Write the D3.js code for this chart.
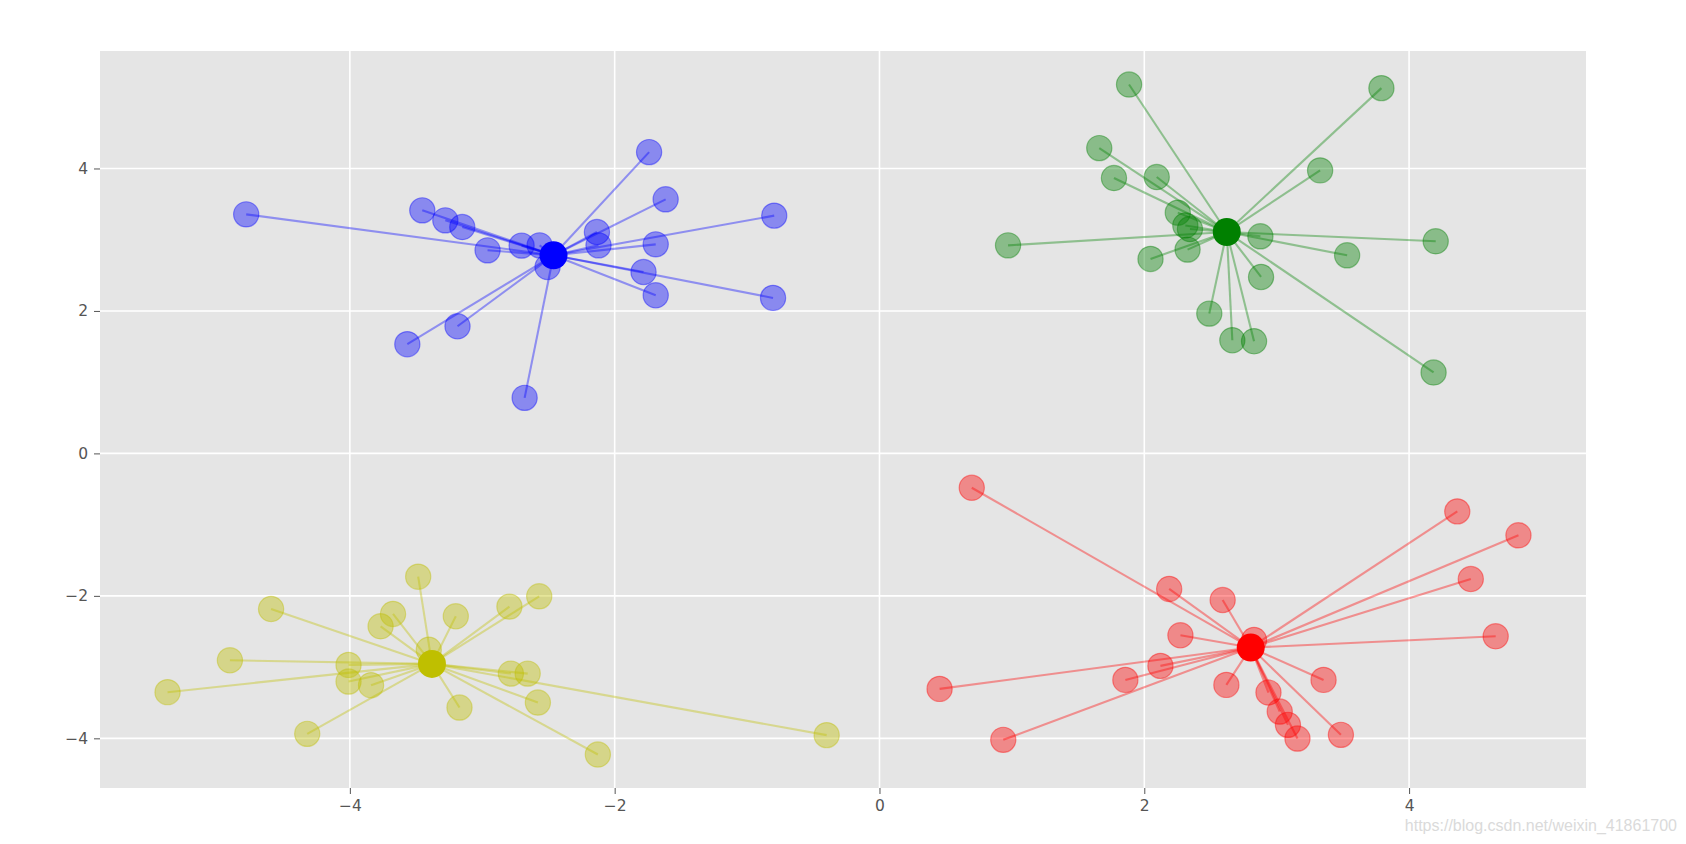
<!DOCTYPE html>
<html>
<head>
<meta charset="utf-8">
<script src="https://cdn.jsdelivr.net/npm/d3@7"></script>
<style>
  html, body { margin: 0; padding: 0; background: #ffffff; }
  svg { display: block; }
</style>
</head>
<body>
<svg id="chart" width="1686" height="844"></svg>
<script>
// ---- data ----
const blueX = [-4.783, -3.453, -3.279, -3.151, -2.960, -2.703, -2.567, -2.507, -1.740, -1.615,
               -2.134, -2.122, -1.690, -0.795, -1.782, -1.690, -0.804, -3.187, -3.566, -2.680];
const blueY = [3.356, 3.412, 3.272, 3.178, 2.851, 2.917, 2.921, 2.617, 4.230, 3.567,
               3.108, 2.921, 2.935, 3.338, 2.547, 2.220, 2.183, 1.785, 1.533, 0.780];
const blueCenter = [-2.462, 2.781];

const greenX = [1.885, 3.791, 1.660, 1.771, 2.094, 3.328, 2.253, 2.310, 2.345, 2.327,
                2.047, 0.971, 2.877, 4.201, 3.532, 2.882, 2.491, 2.665, 2.829, 4.185];
const greenY = [5.179, 5.128, 4.286, 3.866, 3.880, 3.973, 3.380, 3.200, 3.150, 2.861,
                2.730, 2.921, 3.048, 2.978, 2.781, 2.477, 1.963, 1.589, 1.575, 1.136];
const greenCenter = [2.623, 3.108];

const yellowX = [-3.484, -4.595, -3.674, -3.768, -3.200, -2.795, -2.570, -3.404, -4.906, -4.010,
                 -4.010, -3.840, -5.377, -4.322, -3.172, -2.784, -2.657, -2.580, -2.127, -0.399];
const yellowY = [-1.731, -2.184, -2.254, -2.427, -2.286, -2.151, -2.006, -2.756, -2.904, -2.969,
                 -3.203, -3.254, -3.352, -3.937, -3.568, -3.091, -3.091, -3.498, -4.227, -3.955];
const yellowCenter = [-3.380, -2.955];

const redX = [0.697, 4.364, 4.826, 4.466, 4.654, 2.188, 2.592, 2.273, 2.829, 2.122,
              1.857, 0.454, 0.935, 2.620, 3.354, 2.938, 3.023, 3.085, 3.157, 3.485];
const redY = [-0.482, -0.814, -1.150, -1.763, -2.567, -1.903, -2.058, -2.553, -2.619, -2.983,
              -3.180, -3.306, -4.021, -3.250, -3.180, -3.357, -3.624, -3.811, -4.003, -3.951];
const redCenter = [2.804, -2.726];

const xTicks = [-4, -2, 0, 2, 4];
const yTicks = [-4, -2, 0, 2, 4];
const watermark = "https://blog.csdn.net/weixin_41861700";

const clusters = [
  { xs: blueX,   ys: blueY,   c: blueCenter,   color: "#0000ff" },
  { xs: greenX,  ys: greenY,  c: greenCenter,  color: "#008000" },
  { xs: yellowX, ys: yellowY, c: yellowCenter, color: "#bfbf00" },
  { xs: redX,    ys: redY,    c: redCenter,    color: "#ff0000" }
];

// ---- layout ----
const L = 100, T = 51, R = 1586, B = 788;
const allX = clusters.flatMap(k => k.xs.concat([k.c[0]]));
const allY = clusters.flatMap(k => k.ys.concat([k.c[1]]));
const pad = (ext) => { const d = ext[1] - ext[0]; return [ext[0] - 0.05 * d, ext[1] + 0.05 * d]; };

const x = d3.scaleLinear().domain(pad(d3.extent(allX))).range([L, R]);
const y = d3.scaleLinear().domain(pad(d3.extent(allY))).range([B, T]);

const svg = d3.select("#chart");

svg.append("rect").attr("x", L).attr("y", T).attr("width", R - L).attr("height", B - T)
   .attr("fill", "#e5e5e5");

// grid
const grid = svg.append("g");
grid.selectAll(".gx").data(xTicks).join("line")
  .attr("x1", d => x(d)).attr("x2", d => x(d)).attr("y1", T).attr("y2", B)
  .attr("stroke", "#ffffff").attr("stroke-width", 1.6);
grid.selectAll(".gy").data(yTicks).join("line")
  .attr("y1", d => y(d)).attr("y2", d => y(d)).attr("x1", L).attr("x2", R)
  .attr("stroke", "#ffffff").attr("stroke-width", 1.6);

// axes
const fmt = d => (d < 0 ? "\u2212" + Math.abs(d) : String(d));
const xAxis = svg.append("g").attr("transform", `translate(0,${B})`)
  .call(d3.axisBottom(x).tickValues(xTicks).tickFormat(fmt).tickSize(6).tickPadding(6));
const yAxis = svg.append("g").attr("transform", `translate(${L},0)`)
  .call(d3.axisLeft(y).tickValues(yTicks).tickFormat(fmt).tickSize(6).tickPadding(6));
[xAxis, yAxis].forEach(a => {
  a.select(".domain").remove();
  a.selectAll(".tick line").attr("stroke", "#555555").attr("stroke-width", 1);
  a.selectAll(".tick text").attr("fill", "#555555")
    .style("font-family", "'DejaVu Sans', sans-serif").style("font-size", "15.5px");
});

// clusters
clusters.forEach(k => {
  const pts = k.xs.map((v, i) => [v, k.ys[i]]);
  const g = svg.append("g");
  g.selectAll("circle.pt").data(pts).join("circle")
    .attr("cx", d => x(d[0])).attr("cy", d => y(d[1])).attr("r", 12.6)
    .attr("fill", k.color).attr("fill-opacity", 0.4)
    .attr("stroke", k.color).attr("stroke-opacity", 0.4).attr("stroke-width", 1.2);
  g.selectAll("line.ln").data(pts).join("line")
    .attr("x1", d => x(d[0])).attr("y1", d => y(d[1]))
    .attr("x2", x(k.c[0])).attr("y2", y(k.c[1]))
    .attr("stroke", k.color).attr("stroke-opacity", 0.38).attr("stroke-width", 2.1);
  g.append("circle")
    .attr("cx", x(k.c[0])).attr("cy", y(k.c[1])).attr("r", 14)
    .attr("fill", k.color);
});

// watermark
svg.append("text").attr("x", 1677).attr("y", 831).attr("text-anchor", "end")
  .attr("fill", "#dadada")
  .style("font-family", "'Liberation Sans', Arial, sans-serif").style("font-size", "16px")
  .text(watermark);
</script>
</body>
</html>
